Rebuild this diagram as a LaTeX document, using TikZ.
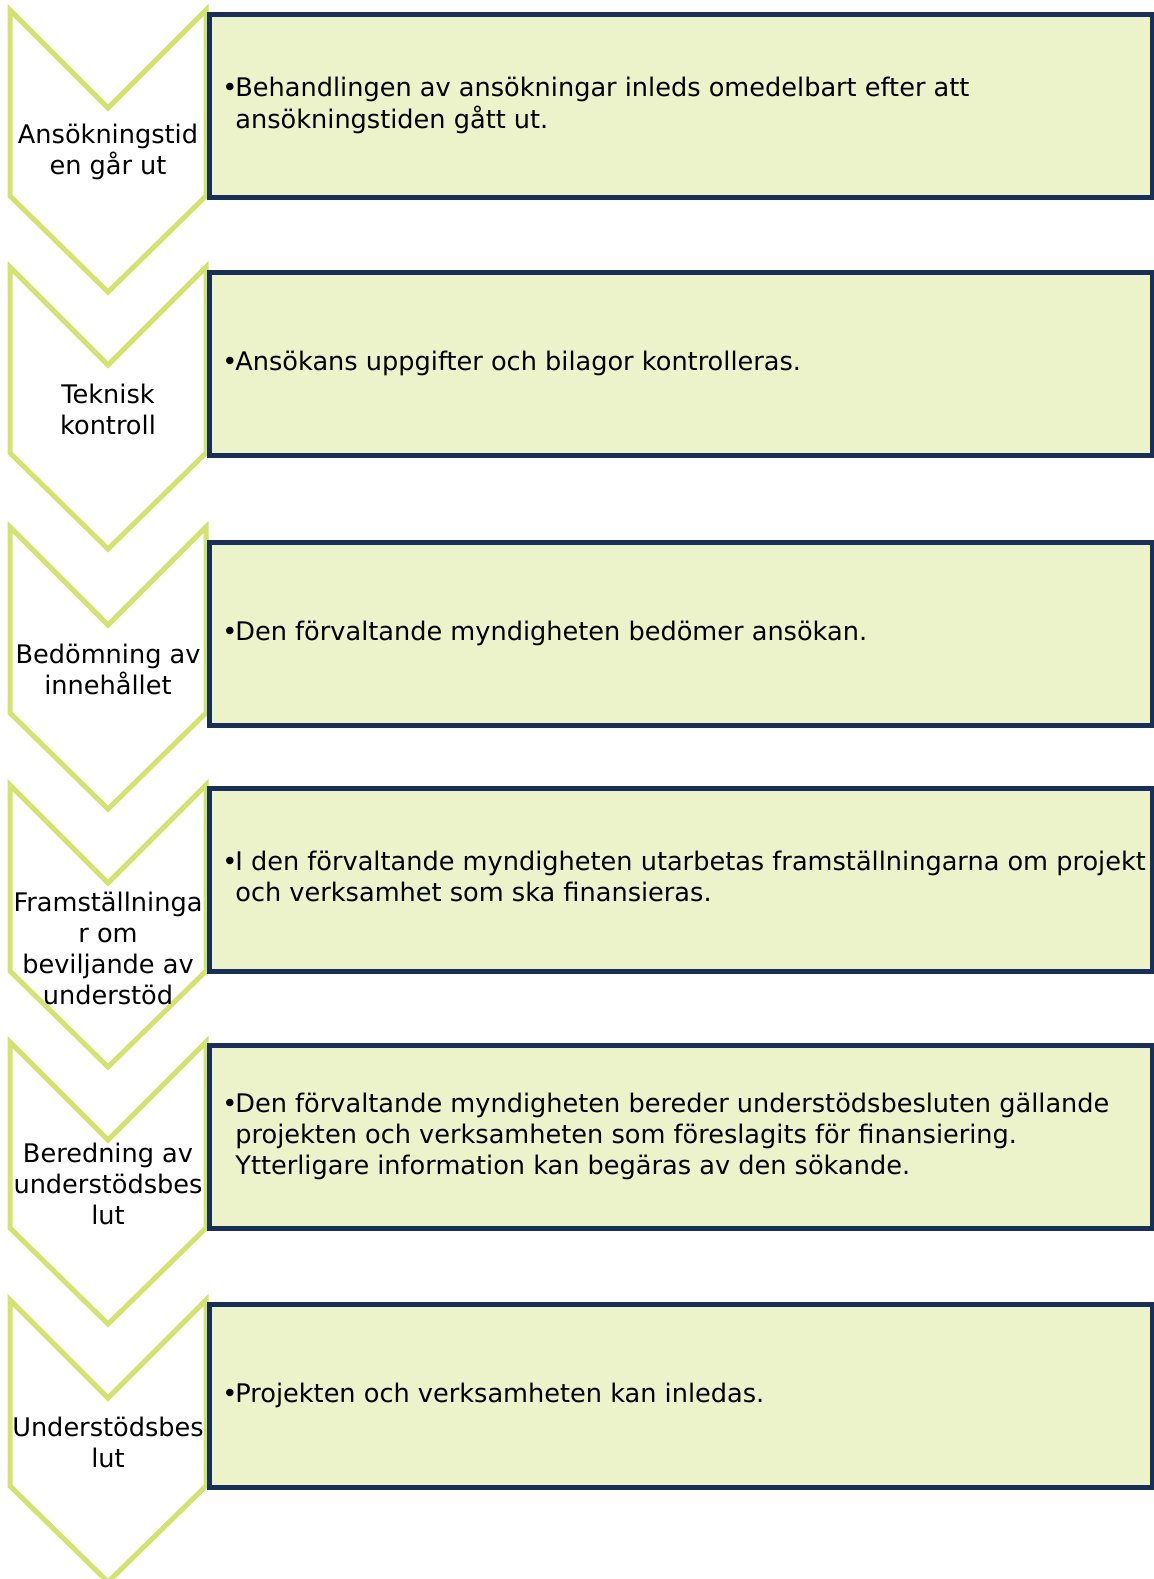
\documentclass[tikz,border=0pt]{standalone}
\usepackage{fontspec}
\setmainfont{DejaVu Sans}
\usetikzlibrary{positioning}

\definecolor{chevgreen}{RGB}{212,227,112}
\definecolor{boxfill}{RGB}{236,243,202}
\definecolor{boxline}{RGB}{24,48,88}

\newcommand{\stepfont}{\fontsize{12.8}{15.5}\selectfont}
% bullet with hanging lines
\newcommand{\bul}[1]{\makebox[6.5pt][l]{•}\begin{tabular}[t]{@{}l@{}}#1\end{tabular}}
% chevron, #1 = top edge
\newcommand{\chevron}[1]{%
  \draw[chev] (10,#1) -- (108,{#1+98}) -- (206,#1) -- (206,{#1+186})
    -- (108,{#1+282}) -- (10,{#1+186}) -- cycle;}

\begin{document}
\begin{tikzpicture}[x=0.5pt, y=-0.5pt,
  chev/.style = {draw=chevgreen, line width=2.5pt, fill=white, line join=miter},
  stepbox/.style = {draw=boxline, line width=2.6pt, fill=boxfill, anchor=north west,
    minimum width=471.5pt, minimum height=91.5pt, inner sep=0pt},
  steplabel/.style = {align=center, font=\stepfont, inner sep=0pt},
  steptext/.style = {font=\stepfont, inner sep=0pt}]
\useasboundingbox (0,0) rectangle (1153,1579);

\chevron{10}
\chevron{267}
\chevron{527}
\chevron{785}
\chevron{1042}
\chevron{1300}

\node[stepbox] (box1) at (207,12) {};
\node[stepbox] (box2) at (207,270) {};
\node[stepbox] (box3) at (207,540) {};
\node[stepbox] (box4) at (207,786) {};
\node[stepbox] (box5) at (207,1043) {};
\node[stepbox] (box6) at (207,1302) {};

\node[steplabel] (lab1) at (108,152) {Ansökningstid\\en går ut};
\node[steplabel] (lab2) at (108,409) {Teknisk\\kontroll};
\node[steplabel] (lab3) at (108,669) {Bedömning av\\innehållet};
\node[steplabel] (lab4) at (108,948) {Framställninga\\r om\\beviljande av\\understöd};
\node[steplabel] (lab5) at (108,1184) {Beredning av\\understödsbes\\lut};
\node[steplabel] (lab6) at (108,1442) {Understödsbes\\lut};

\node[steptext, right=7.5pt of box1.west] (txt1)
  {\bul{Behandlingen av ansökningar inleds omedelbart efter att\\ansökningstiden gått ut.}};
\node[steptext, right=7.5pt of box2.west] (txt2)
  {\bul{Ansökans uppgifter och bilagor kontrolleras.}};
\node[steptext, right=7.5pt of box3.west] (txt3)
  {\bul{Den förvaltande myndigheten bedömer ansökan.}};
\node[steptext, right=7.5pt of box4.west] (txt4)
  {\bul{I den förvaltande myndigheten utarbetas framställningarna om projekt\\och verksamhet som ska finansieras.}};
\node[steptext, right=7.5pt of box5.west] (txt5)
  {\bul{Den förvaltande myndigheten bereder understödsbesluten gällande\\projekten och verksamheten som föreslagits för finansiering.\\Ytterligare information kan begäras av den sökande.}};
\node[steptext, right=7.5pt of box6.west] (txt6)
  {\bul{Projekten och verksamheten kan inledas.}};
\end{tikzpicture}
\end{document}
